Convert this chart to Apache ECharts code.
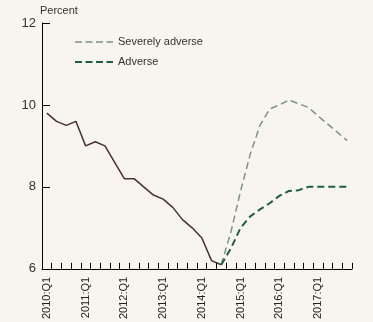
<!DOCTYPE html>
<html>
<head>
<meta charset="utf-8">
<script src="https://cdn.jsdelivr.net/npm/echarts@6/dist/echarts.min.js"></script>
<style>
html,body{margin:0;padding:0;background:#f8f4ee;}
#c{width:373px;height:322px;}
</style>
</head>
<body>
<div id="c"></div>
<script>
var years = [2010, 2011, 2012, 2013, 2014, 2015, 2016, 2017];
var quarters = ['Q1', 'Q2', 'Q3', 'Q4'];
var categories = [];
years.forEach(function (y) { quarters.forEach(function (q) { categories.push(y + ':' + q); }); });

var yTicks = { min: 6, max: 12, interval: 2 };
var legendNames = ['Severely adverse', 'Adverse'];

// 2010:Q1 .. 2014:Q3
var historical = [9.8, 9.6, 9.5, 9.6, 9.0, 9.1, 9.0, 8.6, 8.2, 8.2, 8.0, 7.8, 7.7, 7.5, 7.2, 7.0, 6.75, 6.2, 6.1];
// 2014:Q3 .. 2017:Q4
var severelyAdverse = [6.1, 6.9, 7.9, 8.8, 9.5, 9.9, 10.0, 10.12, 10.03, 9.94, 9.73, 9.53, 9.33, 9.13];
var adverse = [6.1, 6.5, 7.0, 7.28, 7.45, 7.6, 7.78, 7.9, 7.92, 8.0, 8.0, 8.0, 8.0, 8.0];

var projStart = historical.length - 1;
function pad(arr, start) {
  var out = [];
  for (var i = 0; i < categories.length; i++) {
    var j = i - start;
    out.push(j >= 0 && j < arr.length ? arr[j] : null);
  }
  return out;
}

var sevColor = '#7a9389', advColor = '#1b5e45', histColor = '#4a3036';
var font = '"Liberation Sans Narrow", "Arial Narrow", "Liberation Sans", Arial, sans-serif';

function legendItem(y, name, color, width) {
  return [
    { type: 'line', shape: { x1: 75, y1: y, x2: 113, y2: y },
      style: { stroke: color, lineWidth: width, lineDash: [7, 3.5] } },
    { type: 'text', x: 118, y: y, style: { text: name, fill: '#333', font: '11px ' + font,
      textVerticalAlign: 'middle', verticalAlign: 'middle' } }
  ];
}

var chart = echarts.init(document.getElementById('c'), null, { renderer: 'canvas' });
chart.setOption({
  backgroundColor: '#f8f4ee',
  animation: false,
  grid: { left: 42, right: 21, top: 23, bottom: 47, containLabel: false },
  graphic: legendItem(42, legendNames[0], sevColor, 1.5).concat(legendItem(62, legendNames[1], advColor, 2)),
  xAxis: {
    type: 'category',
    data: categories,
    boundaryGap: true,
    axisLine: { lineStyle: { color: '#000', width: 1 } },
    axisTick: { show: true, inside: true, length: 6, interval: 0, lineStyle: { color: '#000' } },
    axisLabel: {
      interval: 3,
      rotate: 90,
      margin: 8,
      fontFamily: font,
      fontSize: 11,
      color: '#222'
    },
    splitLine: { show: false }
  },
  yAxis: {
    type: 'value',
    min: yTicks.min,
    max: yTicks.max,
    interval: yTicks.interval,
    name: 'Percent',
    nameLocation: 'end',
    nameGap: 6,
    nameTextStyle: { fontFamily: font, fontSize: 11, color: '#333', align: 'left', padding: [0, 0, 0, -2] },
    axisLine: { show: true, lineStyle: { color: '#000', width: 1 } },
    axisTick: { show: true, inside: true, length: 8, lineStyle: { color: '#000' } },
    axisLabel: { fontFamily: font, fontSize: 13, color: '#333', margin: 6 },
    splitLine: { show: false }
  },
  series: [
    {
      name: 'Historical',
      type: 'line',
      data: pad(historical, 0),
      symbol: 'none',
      lineStyle: { color: histColor, width: 1.5 },
      itemStyle: { color: histColor }
    },
    {
      name: legendNames[0],
      type: 'line',
      data: pad(severelyAdverse, projStart),
      symbol: 'none',
      lineStyle: { color: sevColor, width: 1.5, type: [7, 4] },
      itemStyle: { color: sevColor }
    },
    {
      name: legendNames[1],
      type: 'line',
      data: pad(adverse, projStart),
      symbol: 'none',
      lineStyle: { color: advColor, width: 2, type: [7, 4] },
      itemStyle: { color: advColor }
    }
  ]
});
</script>
</body>
</html>
